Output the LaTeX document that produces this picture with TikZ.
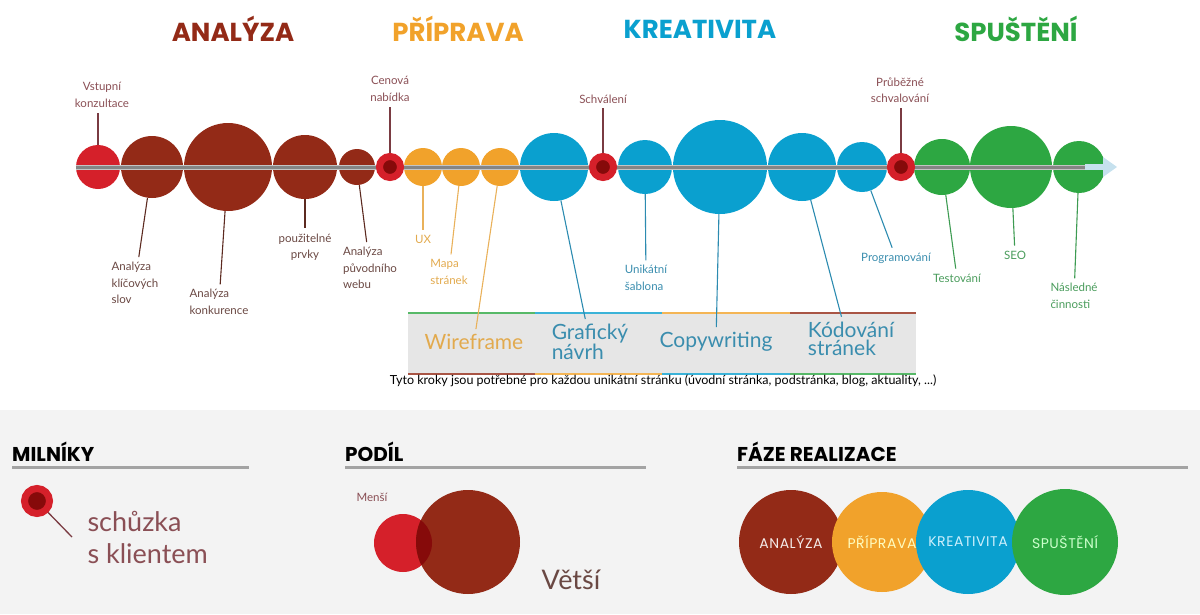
\documentclass[tikz,border=0pt]{standalone}
\usepackage{fontspec}
\setmainfont{Lato}
\newfontfamily\headfont{Poppins}
\newfontfamily\phasefont[LetterSpace=4]{Poppins}
\usetikzlibrary{shapes}

\definecolor{brn}{HTML}{932A17}
\definecolor{org}{HTML}{F1A22B}
\definecolor{blu}{HTML}{0AA0CF}
\definecolor{grn}{HTML}{2DA742}
\definecolor{milred}{HTML}{D5202A}
\definecolor{milin}{HTML}{860A0A}
\definecolor{bar}{HTML}{858585}
\definecolor{barlt}{HTML}{C4C4C4}
\definecolor{tip}{HTML}{C6E1EE}
\definecolor{mtxt}{HTML}{8A4F55}
\definecolor{btxt}{HTML}{6A4843}
\definecolor{otxt}{HTML}{E2AA4E}
\definecolor{ctxt}{HTML}{3A8DAE}
\definecolor{gtxt}{HTML}{4A9C5C}
\definecolor{mline}{HTML}{7A3B42}
\definecolor{bline}{HTML}{5C2A20}
\definecolor{oline}{HTML}{E9B15A}
\definecolor{cline}{HTML}{2C8BB0}
\definecolor{gline}{HTML}{3D9B52}
\definecolor{legbg}{HTML}{F3F3F3}
\definecolor{rule}{HTML}{A3A3A3}
\definecolor{boxbg}{HTML}{E6E6E6}

\tikzset{
  bub/.style={circle,inner sep=0pt,minimum size=#1},
  mile/.style={circle,inner sep=0pt,minimum size=#1,fill=milin,draw=milred,line width=7pt},
  lab/.style={font=\fontsize{11.5}{16.5}\selectfont,inner sep=3pt},
  lead/.style={line width=1.1pt,shorten >=2pt},
  title/.style={font=\headfont\bfseries\fontsize{26}{28}\selectfont},
  head/.style={font=\headfont\bfseries\fontsize{20}{22}\selectfont,anchor=west,inner sep=0pt},
  boxtxt/.style={font=\fontsize{21}{18.5}\selectfont,align=left,inner sep=3pt},
  big/.style={font=\fontsize{27}{32}\selectfont},
  phase/.style={font=\phasefont\fontsize{14}{16}\selectfont}
}

\begin{document}
\begin{tikzpicture}[x=1pt,y=-1pt]
  \useasboundingbox (0,0) rectangle (1200,614);
  \fill[legbg] (0,410) rectangle (1200,614);

  % phase titles
  \node[title,text=brn] (tan) at (233,29) {ANALÝZA};
  \node[title,text=org] (tpr) at (458,29) {PŘÍPRAVA};
  \node[title,text=blu] (tkr) at (700,29) {KREATIVITA};
  \node[title,text=grn] (tsp) at (1016,29) {SPUŠTĚNÍ};

  % per-page steps box
  \fill[boxbg] (408,313) rectangle (916,374);
  \foreach \a/\b/\up/\dn in {408/535/grn/brn,535/662/blu/org,662/790/org/blu,790/916/brn/grn}{
    \draw[\up!80!white,line width=2pt] (\a,313) -- (\b,313);
    \draw[\dn!80!white,line width=2pt] (\a,374) -- (\b,374);
  }
  \node[boxtxt,text=otxt] (wf) at (474,342) {Wireframe};
  \node[boxtxt,text=ctxt] (gn) at (590,342) {Grafický\\návrh};
  \node[boxtxt,text=ctxt] (cw) at (716,342) {Copywriting};
  \node[boxtxt,text=ctxt] (ks) at (851,339) {Kódování\\stránek};
  \node[font=\fontsize{12.5}{14}\selectfont] (cap) at (663,381)
    {Tyto kroky jsou potřebné pro každou unikátní stránku (úvodní stránka, podstránka, blog, aktuality, ...)};

  % bubbles on the timeline
  \node[bub=44pt,fill=milred] (c1) at (98,167) {};
  \node[bub=62pt,fill=brn] (c2) at (152,167) {};
  \node[bub=88pt,fill=brn] (c3) at (228,167) {};
  \node[bub=64pt,fill=brn] (c4) at (305,167) {};
  \node[bub=36pt,fill=brn] (c5) at (357,167) {};
  \node[bub=38pt,fill=org] (o1) at (423,167) {};
  \node[bub=38pt,fill=org] (o2) at (461,167) {};
  \node[bub=38pt,fill=org] (o3) at (500,167) {};
  \node[bub=68pt,fill=blu] (b1) at (554,167) {};
  \node[bub=54pt,fill=blu] (b2) at (645,167) {};
  \node[bub=94pt,fill=blu] (b3) at (720,167) {};
  \node[bub=68pt,fill=blu] (b4) at (802,167) {};
  \node[bub=50pt,fill=blu] (b5) at (862,167) {};
  \node[bub=56pt,fill=grn] (g1) at (942,167) {};
  \node[bub=82pt,fill=grn] (g2) at (1011,167) {};
  \node[bub=52pt,fill=grn] (g3) at (1079,167) {};

  % timeline bar and arrow
  \coordinate (tipb) at (1085,167);
  \draw[barlt,line width=5pt] (c1.west) -- (tipb);
  \draw[bar,line width=3pt] (c1.west) -- (tipb);
  \fill[tip] (1085,164) rectangle (1103,170);
  \fill[tip] (1103,157) -- (1117,167) -- (1103,177) -- cycle;

  % meetings
  \node[mile=21pt] (m1) at (390,167) {};
  \node[mile=21pt] (m2) at (603,167) {};
  \node[mile=21pt] (m3) at (901,167) {};

  \node[lab,text=mtxt,align=center] (l1) at (102,95) {Vstupní\\konzultace};
  \node[lab,text=mtxt,align=center] (lm1) at (390,89) {Cenová\\nabídka};
  \node[lab,text=mtxt] (lm2) at (603,99) {Schválení};
  \node[lab,text=mtxt,align=center] (lm3) at (900,90) {Průběžné\\schvalování};
  \draw[lead,mline] (c1) -- (c1 |- l1.south);
  \draw[lead,mline] (m1) -- (lm1);
  \draw[lead,mline] (m2) -- (lm2);
  \draw[lead,mline] (m3) -- (m3 |- lm3.south);

  % step labels
  \node[lab,text=btxt,align=left] (l2) at (135,283) {Analýza\\klíčových\\slov};
  \node[lab,text=btxt,align=left] (l3) at (219,302) {Analýza\\konkurence};
  \node[lab,text=btxt,align=center] (l4) at (305,247) {použitelné\\prvky};
  \node[lab,text=btxt,align=left] (l5) at (370,268) {Analýza\\původního\\webu};
  \node[lab,text=otxt] (lo1) at (423,239) {UX};
  \node[lab,text=otxt,align=left] (lo2) at (449,272) {Mapa\\stránek};
  \node[lab,text=ctxt,align=left] (lb2) at (646,278) {Unikátní\\šablona};
  \node[lab,text=ctxt] (lb5) at (896,258) {Programování};
  \node[lab,text=gtxt] (lg1) at (957,278) {Testování};
  \node[lab,text=gtxt] (lg2) at (1015,255) {SEO};
  \node[lab,text=gtxt,align=left] (lg3) at (1074,296) {Následné\\činnosti};

  \draw[lead,bline] (c2) -- (l2);
  \draw[lead,bline] (c3) -- (l3);
  \draw[lead,bline] (c4) -- (l4);
  \draw[lead,bline] (c5) -- (l5);
  \draw[lead,oline] (o1) -- (lo1);
  \draw[lead,oline] (o2) -- (lo2);
  \draw[lead,oline] (o3) -- (wf);
  \draw[lead,cline] (b1) -- (gn);
  \draw[lead,cline] (b2) -- (lb2);
  \draw[lead,cline] (b3) -- (cw);
  \draw[lead,cline] (b4) -- ([xshift=-9pt]ks.north);
  \draw[lead,cline] (b5) -- (lb5);
  \draw[lead,gline] (g1) -- (lg1);
  \draw[lead,gline] (g2) -- (lg2);
  \draw[lead,gline] (g3) -- (lg3);

  % legend: milestones
  \node[head] (hm) at (12,452) {MILNÍKY};
  \draw[rule,line width=3pt] (12,467) -- (249,467);
  \node[mile=25pt] (mk) at (37,501) {};
  \coordinate (mkend) at (72,537);
  \draw[mline,line width=1.3pt] (mk) -- (mkend);
  \node[big,text=mtxt,align=left,anchor=west] (mkt) at (84,537) {schůzka\\s klientem};

  % legend: share
  \node[head] (hp) at (345,452) {PODÍL};
  \draw[rule,line width=3pt] (345,467) -- (646,467);
  \node[lab,text=mtxt] (men) at (372,497) {Menší};
  \node[bub=58pt,fill=milred] (sm) at (403,543) {};
  \node[bub=104pt,fill=brn] (lg) at (468,542) {};
  \begin{scope}
    \clip (403,543) circle (29pt);
    \fill[milin] (468,542) circle (52pt);
  \end{scope}
  \node[big,text=btxt] (vet) at (571,580) {Větší};

  % legend: phases
  \node[head] (hf) at (737,452) {FÁZE REALIZACE};
  \draw[rule,line width=3pt] (737,467) -- (1188,467);
  \node[bub=104pt,fill=brn,phase,text=white!90!brn] (fa) at (791,542) {ANALÝZA};
  \node[bub=100pt,fill=org,phase,text=yellow!25!white] (fp) at (882,542) {PŘÍPRAVA};
  \node[bub=104pt,fill=blu,phase,text=cyan!20!white] (fk) at (968,542) {KREATIVITA};
  \node[bub=106pt,fill=grn,phase,text=green!20!white] (fs) at (1065,542) {SPUŠTĚNÍ};
\end{tikzpicture}
\end{document}
